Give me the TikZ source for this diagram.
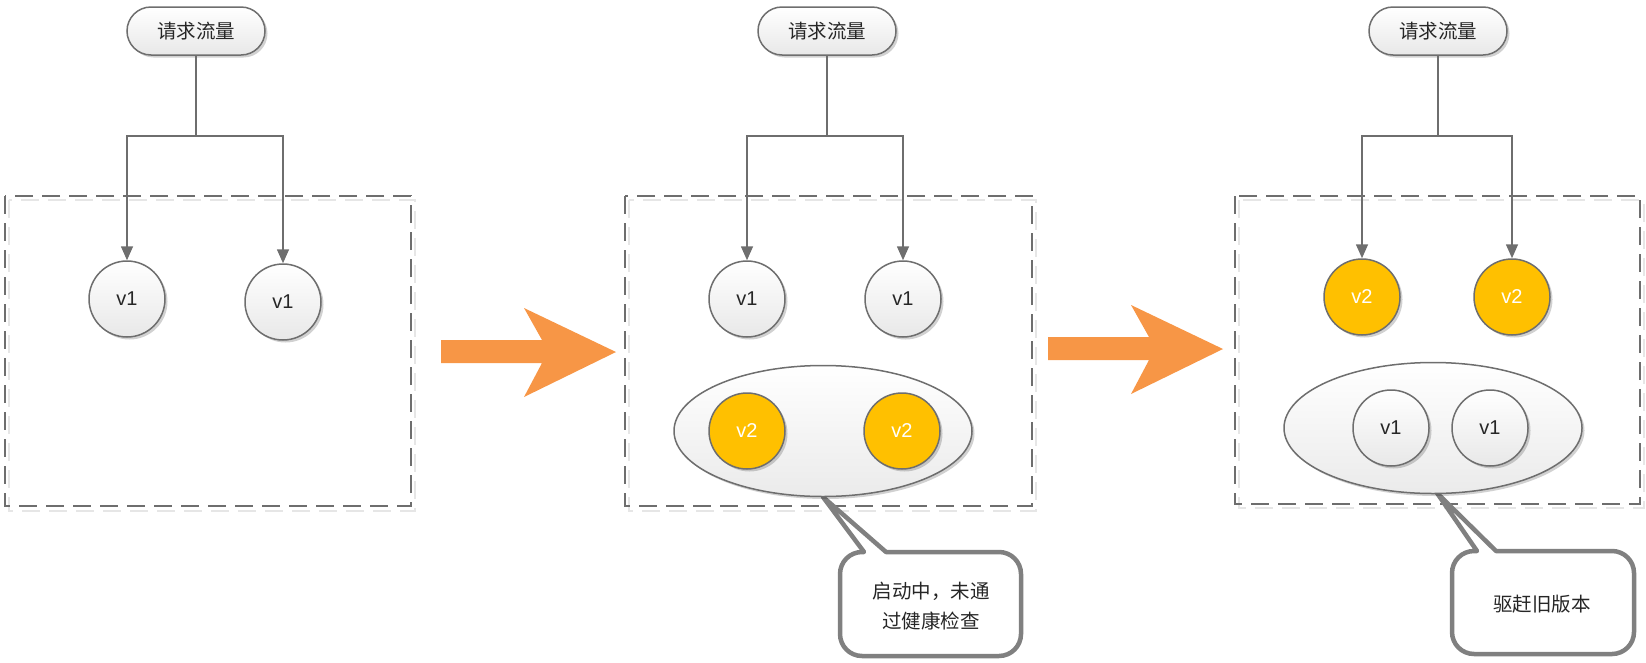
\documentclass[tikz,border=0pt]{standalone}
\usepackage{fontspec}
\setmainfont{Liberation Sans}
\newfontfamily\cjk{Noto Sans CJK SC}
\usetikzlibrary{shapes.geometric,arrows.meta,shadows}
\definecolor{lg}{HTML}{6E6E6E}
\definecolor{cg}{HTML}{808080}
\definecolor{og}{HTML}{F79646}
\definecolor{yl}{HTML}{FFC000}
\definecolor{sh}{HTML}{E6E6E6}
\begin{document}
\begin{tikzpicture}[x=1pt,y=-1pt,
  shd/.style={drop shadow={shadow xshift=2.5pt,shadow yshift=-2.5pt,opacity=0.18,fill=black}},
  pill/.style={rectangle, rounded corners=24pt, minimum width=138pt, minimum height=48pt, inner sep=0pt,
    draw=lg, line width=1.5pt, top color=white, bottom color=black!9, shd,
    font=\cjk\fontsize{19.5}{24}\selectfont, text=black!85},
  vbase/.style={circle, minimum size=76pt, inner sep=0pt, draw=lg, line width=1.5pt, shd,
    font=\fontsize{20}{24}\selectfont},
  vone/.style={vbase, top color=white, bottom color=black!9, text=black!85},
  vtwo/.style={vbase, fill=yl, text=white},
  ell/.style={ellipse, minimum width=298pt, minimum height=131pt, inner sep=0pt, draw=lg, line width=1.5pt,
    top color=white, bottom color=black!8, shd},
  conn/.style={draw=lg, line width=1.6pt},
  arr/.style={conn, -{Triangle[width=12pt,length=14pt]}},
  dbox/.style={draw=lg, line width=1.9pt, dash pattern=on 18pt off 9pt},
  dboxs/.style={draw=sh, line width=1.9pt, dash pattern=on 18pt off 9pt},
  callout/.style={draw=cg, line width=4.5pt, fill=white, line join=round},
  ctext/.style={font=\cjk\fontsize{19.5}{30}\selectfont, align=center, text=black!85},
  bigarrow/.style={fill=og, draw=none}
]
\useasboundingbox (0,0) rectangle (1646,662);

% ---------- dashed boxes ----------
\draw[dboxs] (9,200) rectangle (415,511);
\draw[dbox] (5,196) rectangle (411,506);
\draw[dboxs] (629,200) rectangle (1036,511);
\draw[dbox] (625,196) rectangle (1032,506);
\draw[dboxs] (1239,200) rectangle (1644,508);
\draw[dbox] (1235,196) rectangle (1640,504);

% ---------- panel 1 ----------
\node[pill] (p1) at (196,31) {请求流量};
\node[vone] (a1) at (127,299) {v1};
\node[vone] (a2) at (283,302) {v1};
\coordinate (j1) at (196,136);
\draw[conn] (p1.south) -- (j1);
\draw[arr] (j1) -| (a1.north);
\draw[arr] (j1) -| (a2.north);

% ---------- big arrows ----------
\fill[bigarrow] (441,340) -- (542,340) -- (524,308) -- (616,352) -- (524,397) -- (542,363) -- (441,363) -- cycle;
\fill[bigarrow] (1048,337) -- (1149,337) -- (1131,305) -- (1223,349) -- (1131,394) -- (1149,360) -- (1048,360) -- cycle;

% ---------- panel 2 ----------
\node[pill] (p2) at (827,31) {请求流量};
\node[vone] (b1) at (747,299) {v1};
\node[vone] (b2) at (903,299) {v1};
\coordinate (j2) at (827,136);
\draw[conn] (p2.south) -- (j2);
\draw[arr] (j2) -| (b1.north);
\draw[arr] (j2) -| (b2.north);

\draw[callout] (840,600) [rounded corners=22pt] -- (840,552) [sharp corners] -- (864,552) -- (823,497) -- (886,552) [rounded corners=22pt] -- (1021,552) -- (1021,656) -- (840,656) -- cycle;
\node[ell] (e2) at (823,431) {};
\node[vtwo] (b3) at (747,431) {v2};
\node[vtwo] (b4) at (902,431) {v2};
\node[ctext] (t2) at (931,606) {启动中，未通\\过健康检查};

% ---------- panel 3 ----------
\node[pill] (p3) at (1438,31) {请求流量};
\node[vtwo] (c1) at (1362,297) {v2};
\node[vtwo] (c2) at (1512,297) {v2};
\coordinate (j3) at (1438,136);
\draw[conn] (p3.south) -- (j3);
\draw[arr] (j3) -| (c1.north);
\draw[arr] (j3) -| (c2.north);

\draw[callout] (1452,600) [rounded corners=22pt] -- (1452,551) [sharp corners] -- (1477,551) -- (1437,493) -- (1496,551) [rounded corners=22pt] -- (1634,551) -- (1634,654) -- (1452,654) -- cycle;
\node[ell] (e3) at (1433,428) {};
\node[vone] (c3) at (1391,428) {v1};
\node[vone] (c4) at (1490,428) {v1};
\node[ctext] (t3) at (1542,604) {驱赶旧版本};
\end{tikzpicture}
\end{document}
